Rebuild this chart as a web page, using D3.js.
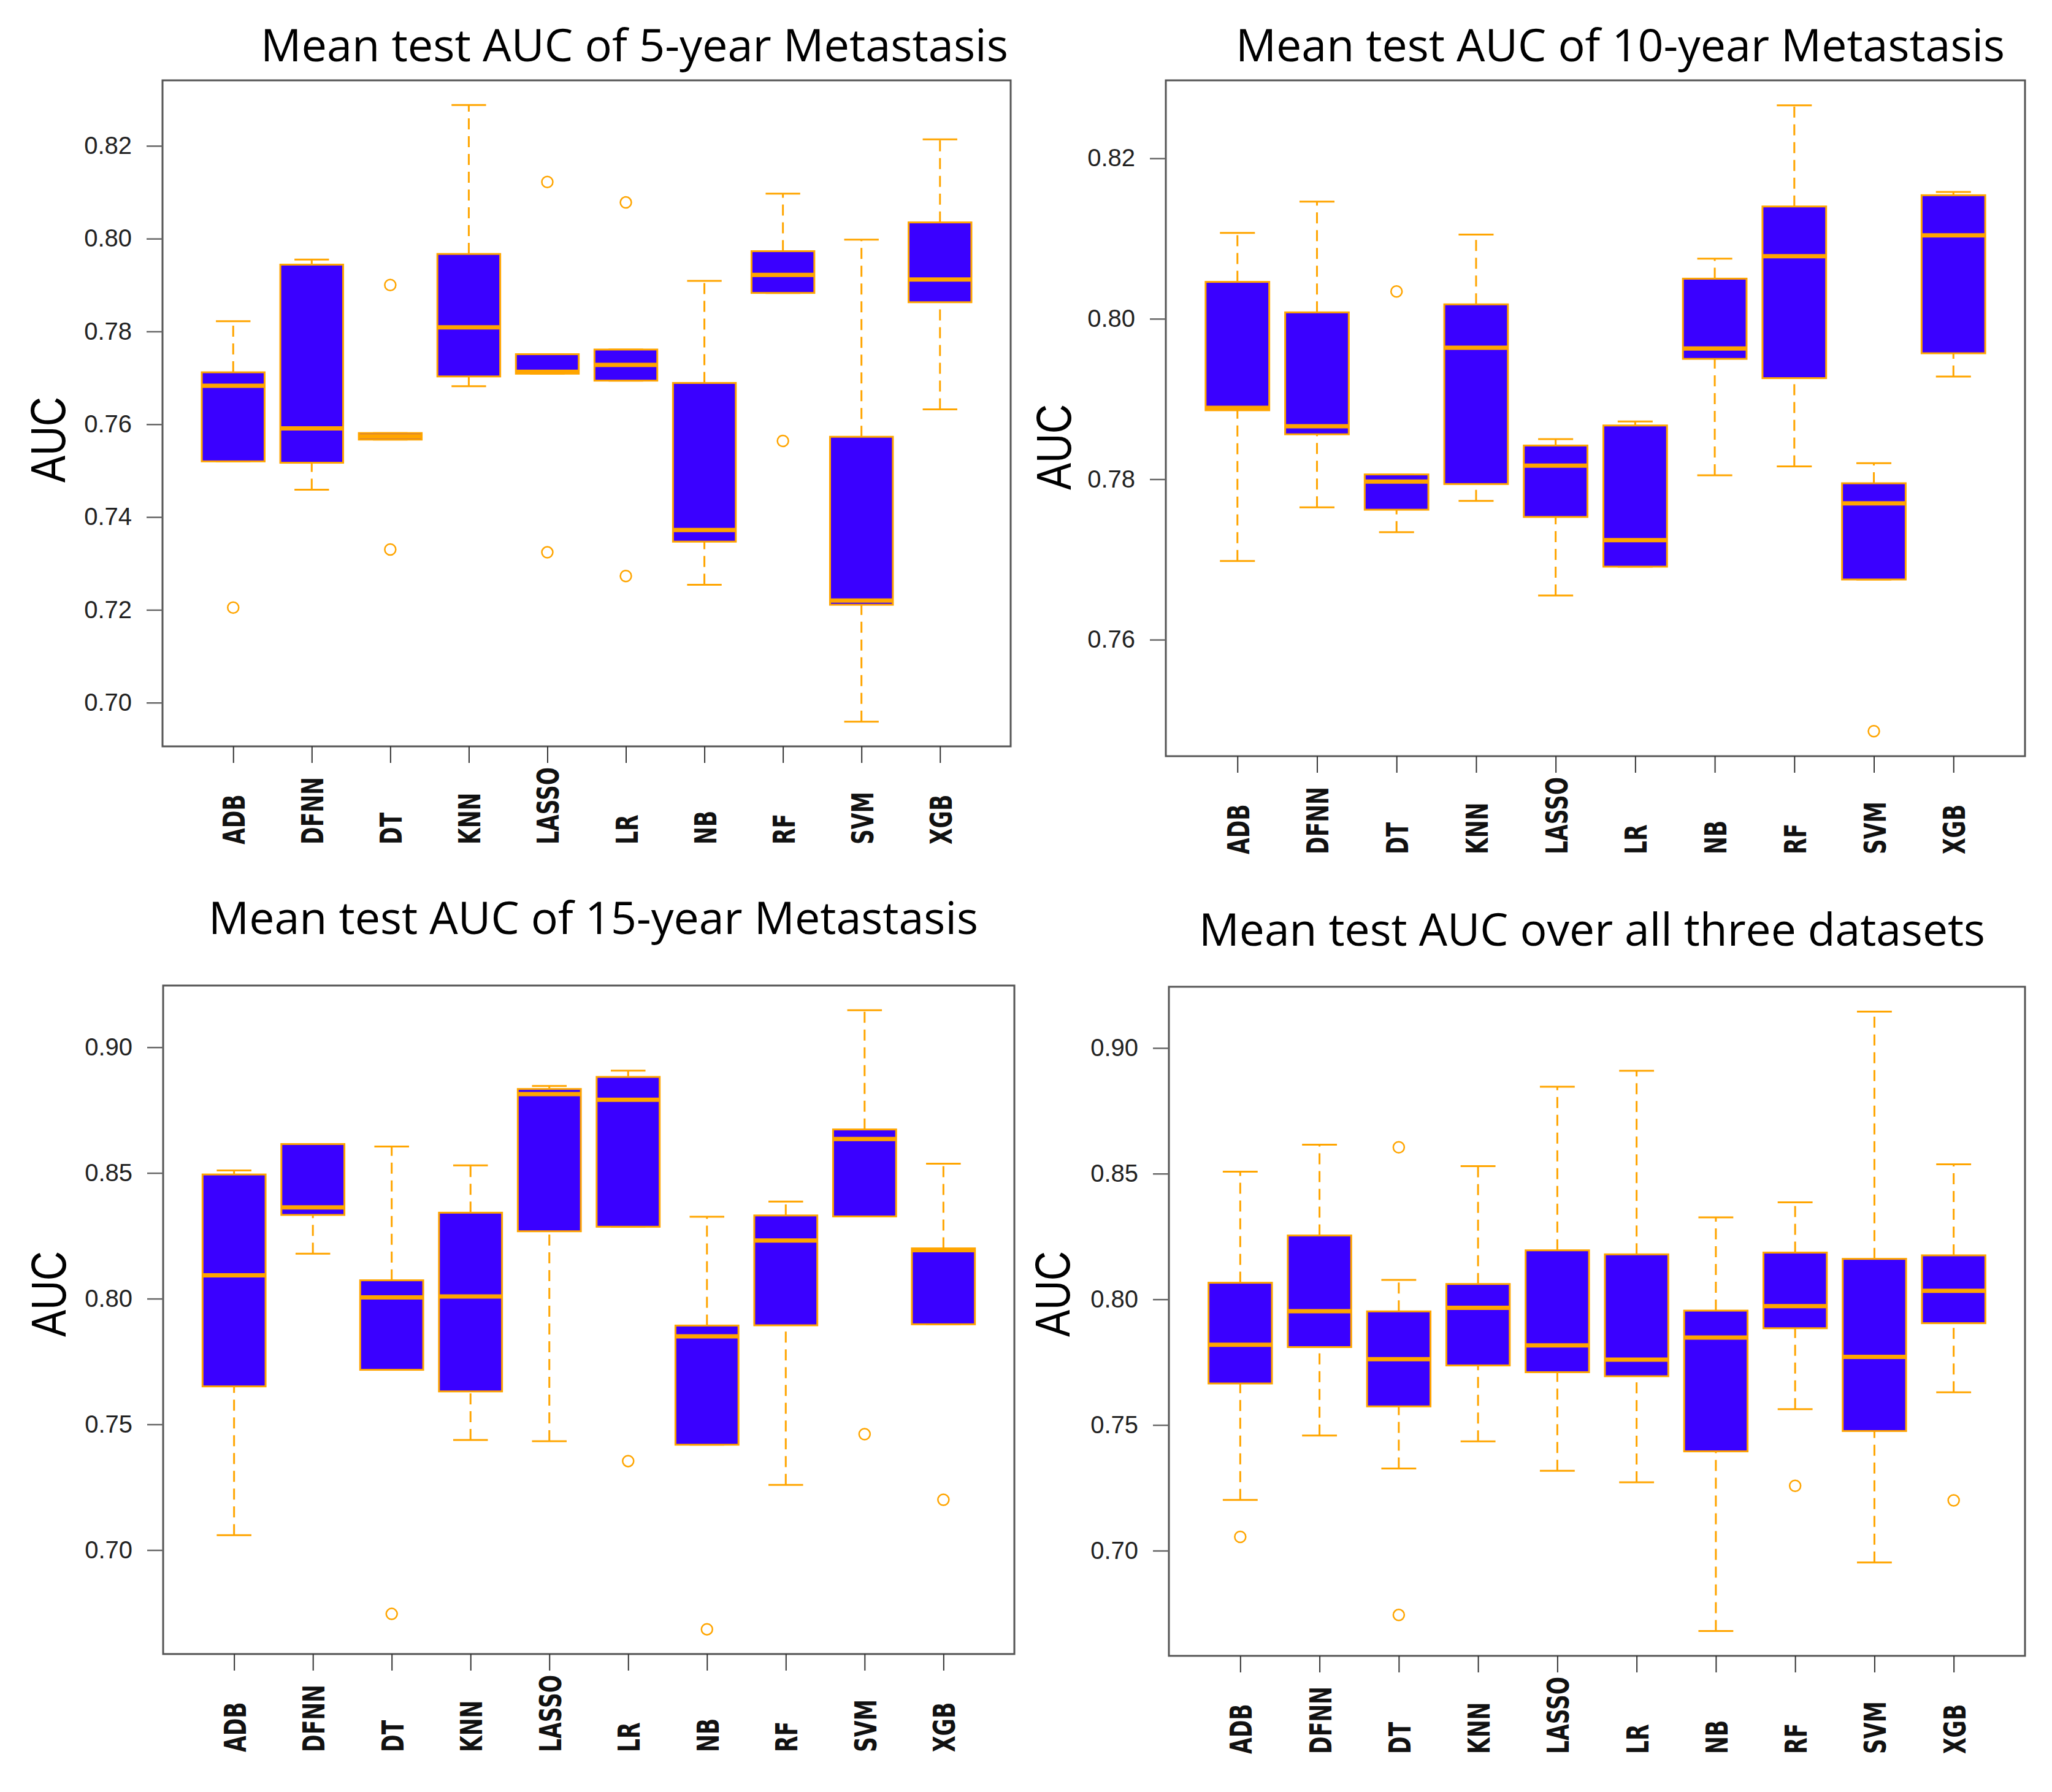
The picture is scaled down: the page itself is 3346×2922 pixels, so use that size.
<!DOCTYPE html>
<html>
<head>
<meta charset="utf-8">
<script src="https://cdn.jsdelivr.net/npm/d3@7"></script>
<style>
  body { margin: 0; background: #fff; }
</style>
</head>
<body>
<svg id="chart" width="3346" height="2922"></svg>
<script>
const models = ["ADB", "DFNN", "DT", "KNN", "LASSO", "LR", "NB", "RF", "SVM", "XGB"];

// each row: [lower whisker, Q1, median, Q3, upper whisker]
const stats5yr = [
  [0.7520, 0.7520, 0.7683, 0.7712, 0.7822],
  [0.7459, 0.7517, 0.7591, 0.7944, 0.7955],
  [0.7567, 0.7567, 0.7574, 0.7581, 0.7581],
  [0.7682, 0.7703, 0.7809, 0.7967, 0.8288],
  [0.7709, 0.7709, 0.7713, 0.7751, 0.7751],
  [0.7694, 0.7694, 0.7728, 0.7761, 0.7761],
  [0.7254, 0.7347, 0.7372, 0.7689, 0.7909],
  [0.7883, 0.7883, 0.7922, 0.7973, 0.8097],
  [0.6959, 0.7211, 0.7220, 0.7573, 0.7998],
  [0.7632, 0.7863, 0.7912, 0.8035, 0.8214],
];
const outliers5yr = [[0.7205], [], [0.7900, 0.7330], [], [0.8122, 0.7324], [0.8078, 0.7273], [], [0.7564], [], []];

const stats10yr = [
  [0.7698, 0.7886, 0.7889, 0.8046, 0.8107],
  [0.7765, 0.7856, 0.7866, 0.8008, 0.8146],
  [0.7734, 0.7762, 0.7797, 0.7806, 0.7806],
  [0.7773, 0.7794, 0.7964, 0.8018, 0.8105],
  [0.7655, 0.7753, 0.7817, 0.7842, 0.7850],
  [0.7691, 0.7691, 0.7724, 0.7867, 0.7872],
  [0.7805, 0.7950, 0.7963, 0.8050, 0.8075],
  [0.7816, 0.7926, 0.8078, 0.8140, 0.8266],
  [0.7675, 0.7675, 0.7770, 0.7795, 0.7820],
  [0.7928, 0.7957, 0.8104, 0.8154, 0.8158],
];
const outliers10yr = [[], [], [0.8034], [], [], [], [], [], [0.7486], []];

const stats15yr = [
  [0.7059, 0.7651, 0.8093, 0.8494, 0.8510],
  [0.8179, 0.8333, 0.8363, 0.8615, 0.8615],
  [0.7717, 0.7717, 0.8005, 0.8073, 0.8605],
  [0.7438, 0.7631, 0.8009, 0.8342, 0.8530],
  [0.7433, 0.8268, 0.8814, 0.8834, 0.8846],
  [0.8286, 0.8286, 0.8791, 0.8882, 0.8907],
  [0.7419, 0.7419, 0.7850, 0.7893, 0.8326],
  [0.7259, 0.7894, 0.8231, 0.8331, 0.8386],
  [0.8327, 0.8327, 0.8635, 0.8673, 0.9147],
  [0.7898, 0.7898, 0.8193, 0.8200, 0.8537],
];
const outliers15yr = [[], [], [0.6746], [], [], [0.7354], [0.6685], [], [0.7461], [0.7200]];

const statsAll = [
  [0.7202, 0.7665, 0.7819, 0.8066, 0.8508],
  [0.7458, 0.7810, 0.7953, 0.8254, 0.8615],
  [0.7327, 0.7574, 0.7762, 0.7952, 0.8077],
  [0.7435, 0.7737, 0.7966, 0.8061, 0.8530],
  [0.7318, 0.7710, 0.7817, 0.8195, 0.8846],
  [0.7272, 0.7694, 0.7760, 0.8179, 0.8909],
  [0.6680, 0.7395, 0.7848, 0.7955, 0.8326],
  [0.7563, 0.7885, 0.7973, 0.8186, 0.8386],
  [0.6953, 0.7476, 0.7771, 0.8161, 0.9145],
  [0.7630, 0.7905, 0.8034, 0.8175, 0.8537],
];
const outliersAll = [[0.7055], [], [0.8605, 0.6744], [], [], [], [], [0.7258], [], [0.7200]];

const ticks5yr = [0.70, 0.72, 0.74, 0.76, 0.78, 0.80, 0.82];
const ticks10yr = [0.76, 0.78, 0.80, 0.82];
const ticks15yr = [0.70, 0.75, 0.80, 0.85, 0.90];
const ticksAll = [0.70, 0.75, 0.80, 0.85, 0.90];

const titles = [
  "Mean test AUC of 5-year Metastasis",
  "Mean test AUC of 10-year Metastasis",
  "Mean test AUC of 15-year Metastasis",
  "Mean test AUC over all three datasets",
];

// layout of the four panels (pixels)
var panels = [
  { stats: stats5yr, outliers: outliers5yr, ticks: ticks5yr, title: titles[0],
    left: 265, right: 1648, top: 131, bottom: 1217,
    titleX: 425, titleY: 100, titleLen: 1219, aucX: 106, aucY: 717 },
  { stats: stats10yr, outliers: outliers10yr, ticks: ticks10yr, title: titles[1],
    left: 1901, right: 3302, top: 131, bottom: 1233,
    titleX: 2015, titleY: 100, titleLen: 1254, aucX: 1746, aucY: 729 },
  { stats: stats15yr, outliers: outliers15yr, ticks: ticks15yr, title: titles[2],
    left: 266, right: 1654, top: 1607, bottom: 2697,
    titleX: 340, titleY: 1523, titleLen: 1255, aucX: 107, aucY: 2110 },
  { stats: statsAll, outliers: outliersAll, ticks: ticksAll, title: titles[3],
    left: 1906, right: 3302, top: 1609, bottom: 2700,
    titleX: 1955, titleY: 1542, titleLen: 1282, aucX: 1744, aucY: 2110 },
];

var boxFill = "#3a00ff";
var orange = "#ffa500";
var svg = d3.select("#chart");

svg.append("rect").attr("width", 3346).attr("height", 2922).attr("fill", "#fff");

drawPanel = (p) => {
  var g = svg.append("g");

  // R style range: data extent extended by 4%
  let all = p.stats.flat().concat(p.outliers.flat());
  let ext = d3.extent(all);
  let pad = (ext[1] - ext[0]) * 0.04;
  var y = d3.scaleLinear().domain([ext[0] - pad, ext[1] + pad]).range([p.bottom, p.top]);
  var x = d3.scalePoint().domain(models).range([p.left, p.right]).padding(0.9);

  let step = x.step();
  let boxW = step * 0.8;
  let stapleW = boxW * 0.55;

  var items = g.selectAll(".box").data(models).join("g").attr("class", "box");

  // whiskers
  items.each(function (m, i) {
    let s = p.stats[i];
    let cx = x(m);
    let el = d3.select(this);
    [[s[0], s[1]], [s[3], s[4]]].forEach((seg) => {
      if (seg[0] !== seg[1]) {
        el.append("line")
          .attr("x1", cx).attr("x2", cx)
          .attr("y1", y(seg[0])).attr("y2", y(seg[1]))
          .attr("stroke", orange).attr("stroke-width", 3)
          .attr("stroke-dasharray", "18,11");
      }
    });
    [s[0], s[4]].forEach((v) => {
      el.append("line")
        .attr("x1", cx - stapleW / 2).attr("x2", cx + stapleW / 2)
        .attr("y1", y(v)).attr("y2", y(v))
        .attr("stroke", orange).attr("stroke-width", 3);
    });
    el.append("rect")
      .attr("x", cx - boxW / 2)
      .attr("y", y(s[3]))
      .attr("width", boxW)
      .attr("height", Math.max(y(s[1]) - y(s[3]), 1))
      .attr("fill", boxFill)
      .attr("stroke", orange)
      .attr("stroke-width", 3);
    el.append("line")
      .attr("x1", cx - boxW / 2).attr("x2", cx + boxW / 2)
      .attr("y1", y(s[2])).attr("y2", y(s[2]))
      .attr("stroke", orange).attr("stroke-width", 7);
    el.selectAll("circle")
      .data(p.outliers[i])
      .join("circle")
      .attr("cx", cx)
      .attr("cy", (d) => y(d))
      .attr("r", 9)
      .attr("fill", "none")
      .attr("stroke", orange)
      .attr("stroke-width", 2.5);
  });

  // frame
  g.append("rect")
    .attr("x", p.left).attr("y", p.top)
    .attr("width", p.right - p.left).attr("height", p.bottom - p.top)
    .attr("fill", "none").attr("stroke", "#555").attr("stroke-width", 3);

  // y axis
  var yAxis = g.append("g")
    .attr("transform", `translate(${p.left},0)`)
    .call(d3.axisLeft(y).tickValues(p.ticks).tickSize(26).tickPadding(24).tickFormat(d3.format(".2f")));
  yAxis.select(".domain").remove();
  yAxis.selectAll("line").attr("stroke", "#666").attr("stroke-width", 2.5);
  yAxis.selectAll("text")
    .attr("font-family", "'Liberation Sans', Arial, sans-serif")
    .attr("font-size", 40)
    .attr("fill", "#222");

  // x axis
  var xAxis = g.append("g")
    .attr("transform", `translate(0,${p.bottom})`)
    .call(d3.axisBottom(x).tickSize(27).tickFormat(""));
  xAxis.select(".domain").remove();
  xAxis.selectAll("line").attr("stroke", "#333").attr("stroke-width", 2);

  g.selectAll(".xlab")
    .data(models)
    .join("text")
    .attr("class", "xlab")
    .attr("transform", (d) => `translate(${x(d) + 19},${p.bottom + 160}) rotate(-90)`)
    .attr("font-family", "'DejaVu Sans', Verdana, sans-serif")
    .attr("font-weight", "bold")
    .attr("font-size", 50)
    .attr("fill", "#111")
    .text((d) => d)
    .each(function () {
      let len = this.getComputedTextLength();
      d3.select(this).attr("textLength", len * 0.69).attr("lengthAdjust", "spacingAndGlyphs");
    });

  // y label
  g.append("text")
    .attr("transform", `translate(${p.aucX},${p.aucY}) rotate(-90)`)
    .attr("text-anchor", "middle")
    .attr("font-family", "'Liberation Sans', Arial, sans-serif")
    .attr("font-size", 80)
    .attr("textLength", 140)
    .attr("lengthAdjust", "spacingAndGlyphs")
    .attr("fill", "#000")
    .text("AUC");

  // title
  g.append("text")
    .attr("x", p.titleX)
    .attr("y", p.titleY)
    .attr("font-family", "'Open Sans', sans-serif")
    .attr("font-size", 73)
    .attr("textLength", p.titleLen)
    .attr("lengthAdjust", "spacingAndGlyphs")
    .attr("fill", "#000")
    .text(p.title);
};

panels.forEach((p) => drawPanel(p));
</script>
</body>
</html>
